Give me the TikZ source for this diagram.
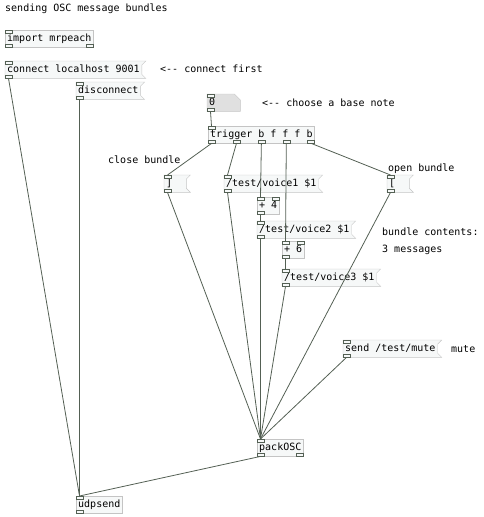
\documentclass[tikz,border=0pt]{standalone}
\usepackage{fontspec}
\usepackage{tikz}
\usetikzlibrary{calc,backgrounds}
\newfontfamily\pdfont{DejaVu Sans Mono}
\definecolor{boxline}{RGB}{196,196,196}
\definecolor{boxfill}{RGB}{246,248,248}
\definecolor{cordcol}{RGB}{84,96,84}
\definecolor{numfill}{RGB}{224,224,224}

% inlets and outlets spread along the top and bottom edge of a box
\newcommand{\pdports}[3]{%
  \foreach \k in {1,...,#2}
    \node[port,anchor=north] (#1-i\k) at ($($(#1.north west)+(3.5,0)$)!{(\k-1)/max(#2-1,1)}!($(#1.north east)+(-3.5,0)$)$) {};
  \foreach \k in {1,...,#3}
    \node[port,anchor=south] (#1-o\k) at ($($(#1.south west)+(3.5,0)$)!{(\k-1)/max(#3-1,1)}!($(#1.south east)+(-3.5,0)$)$) {};
}

\begin{document}
\begin{tikzpicture}[x=1pt,y=-1pt]
  \tikzstyle{obj}=[draw=boxline,fill=boxfill,anchor=north west,font=\pdfont,
                   minimum height=17pt,inner xsep=2pt,inner ysep=0pt,
                   text height=8pt,text depth=2pt]
  \tikzstyle{msg}=[obj,draw=none,fill=none]
  \tikzstyle{port}=[draw=cordcol,fill=boxfill,minimum width=7pt,minimum height=3pt,
                    inner sep=0pt,line width=0.6pt]
  \tikzstyle{comment}=[anchor=base west,font=\pdfont,inner sep=0pt]
  \tikzstyle{cord}=[draw=cordcol,line width=0.8pt]
  \useasboundingbox (0,0) rectangle (483,517);

  \node [comment] (title) at (5,11) {sending OSC message bundles};
  \node [obj] (imp) at (5,30) {import mrpeach};
  \node [msg] (conn) at (5,61) {connect localhost 9001};
  \node [comment] (cfirst) at (160,72) {<{-}{-} connect first};
  \node [msg] (disc) at (76,82) {disconnect};
  \node [msg,text width=29pt,minimum height=17pt] (num) at (207,94) {0};
  \node [comment] (cbase) at (262,106) {<{-}{-} choose a base note};
  \node [obj] (trig) at (208,126) {trigger b f f f b};
  \node [comment] (tclose) at (108,163) {close bundle};
  \node [comment] (topen) at (388,171) {open bundle};
  \node [msg] (close) at (164,175) {\makebox[18pt][l]{\char93}};
  \node [msg] (v1) at (224,175) {/test/voice1 \$1};
  \node [msg] (open) at (387,175) {\makebox[18pt][l]{\char91}};
  \node [obj] (plusfour) at (257,197) {+ 4};
  \node [msg] (v2) at (257,221) {/test/voice2 \$1};
  \node [comment] (tcont) at (382,235) {bundle contents:};
  \node [comment] (tthree) at (382,252) {3 messages};
  \node [obj] (plussix) at (282,241) {+ 6};
  \node [msg] (v3) at (282,269) {/test/voice3 \$1};
  \node [msg] (mute) at (343,340) {send /test/mute};
  \node [comment] (tmute) at (451,352) {mute};
  \node [obj] (pack) at (257,439) {packOSC};
  \node [obj] (udp) at (76,496) {udpsend};

  \begin{scope}[on background layer]
    \foreach \m in {conn,disc,close,v1,v2,v3,open,mute}
      \draw[boxline,fill=boxfill] (\m.north west) -- (\m.north east) -- ++(4,0) -- ++(-4,4)
        -- ($(\m.south east)+(0,-4)$) -- ++(4,4) -- (\m.south west) -- cycle;
    \draw[boxline,fill=numfill] (num.north west) -- ($(num.north east)+(-6,0)$)
      -- ($(num.north east)+(0,6)$) -- (num.south east) -- (num.south west) -- cycle;
  \end{scope}

  \pdports{imp}{1}{2}
  \pdports{conn}{1}{1}
  \pdports{disc}{1}{1}
  \pdports{num}{1}{1}
  \pdports{trig}{1}{5}
  \pdports{close}{1}{1}
  \pdports{v1}{1}{1}
  \pdports{open}{1}{1}
  \pdports{plusfour}{2}{1}
  \pdports{v2}{1}{1}
  \pdports{plussix}{2}{1}
  \pdports{v3}{1}{1}
  \pdports{mute}{1}{1}
  \pdports{pack}{1}{2}
  \pdports{udp}{1}{1}

  \draw[cord] (conn-o1.south) -- (udp-i1.north);
  \draw[cord] (disc-o1.south) -- (udp-i1.north);
  \draw[cord] (num-o1.south) -- (trig-i1.north);
  \draw[cord] (trig-o1.south) -- (close-i1.north);
  \draw[cord] (trig-o2.south) -- (v1-i1.north);
  \draw[cord] (trig-o3.south) -- (plusfour-i1.north);
  \draw[cord] (trig-o4.south) -- (plussix-i1.north);
  \draw[cord] (trig-o5.south) -- (open-i1.north);
  \draw[cord] (plusfour-o1.south) -- (v2-i1.north);
  \draw[cord] (plussix-o1.south) -- (v3-i1.north);
  \foreach \s in {close,v1,v2,v3,open,mute}
    \draw[cord] (\s-o1.south) -- (pack-i1.north);
  \draw[cord] (pack-o1.south) -- (udp-i1.north);
\end{tikzpicture}
\end{document}
